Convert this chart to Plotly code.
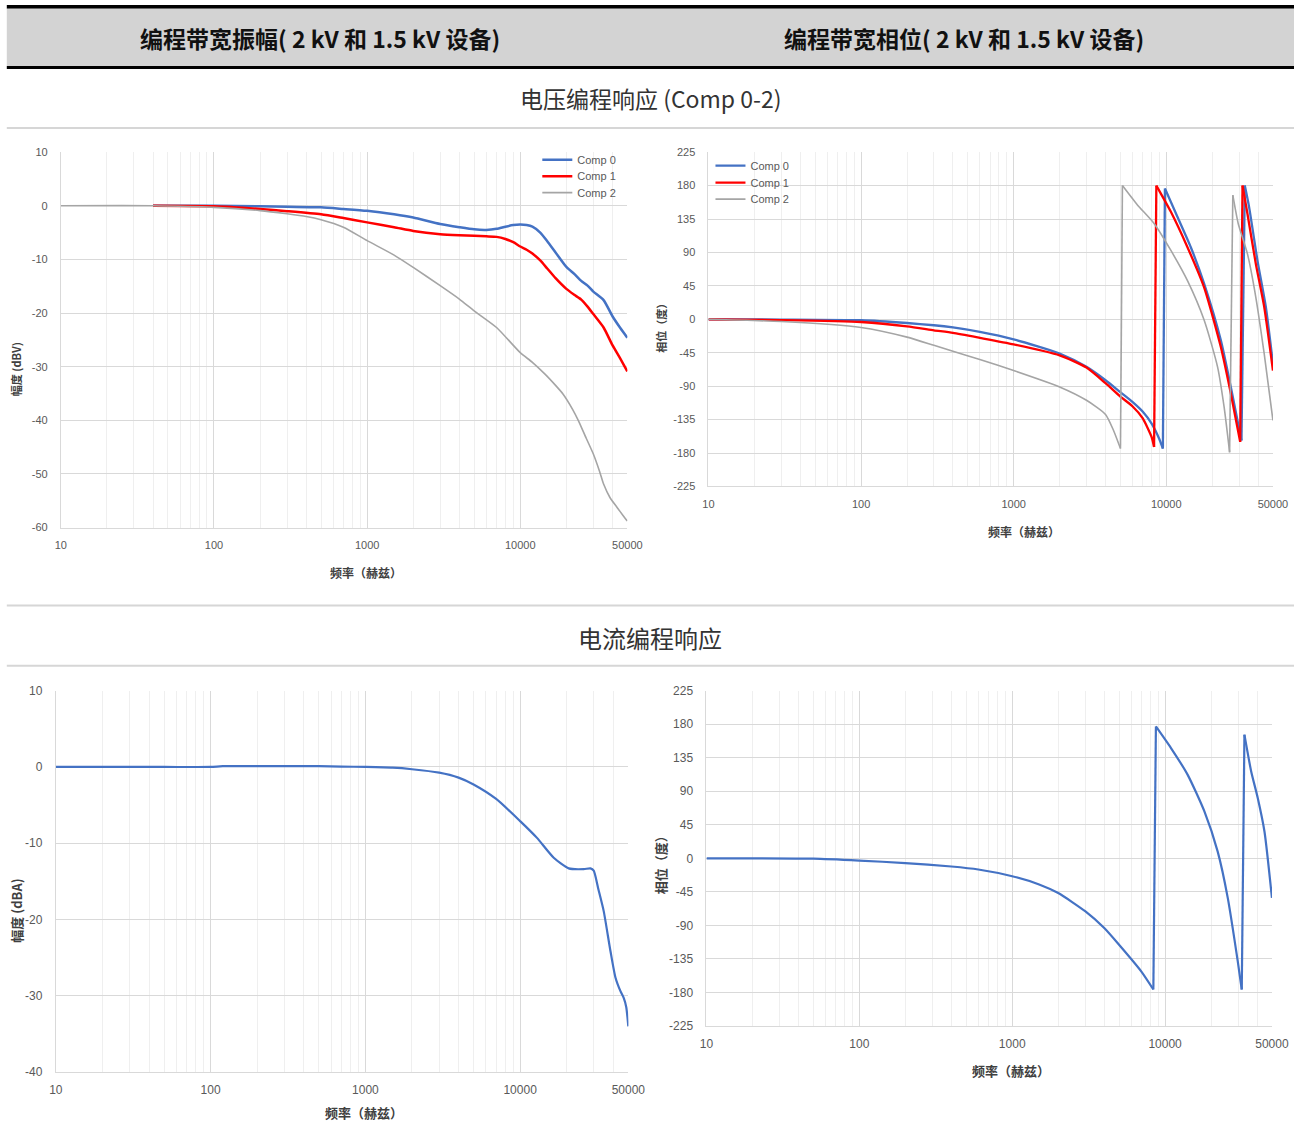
import math
import plotly.graph_objects as go

# Figure size and the observed page->picture mapping (8px body margin, ~0.98 capture scale)
W, H = 1300, 1135
SX, SY = 0.9806, 0.9867
OX, OY = 7.2, 7.0

# ---------------- data ----------------
# Voltage programming magnitude (dBV)
vm_f0 = [40, 100, 200, 300, 500, 700, 1000, 1500, 2000, 3000, 4000, 5000, 6000, 7000, 8000, 9000,
         10000, 11000, 12000, 13500, 15000, 17000, 20000, 22500, 25000, 27500, 30000, 35000, 40000, 45000, 50000]
vm_comp0 = [0, 0, -0.1, -0.2, -0.3, -0.6, -0.95, -1.6, -2.2, -3.4, -4.0, -4.4, -4.5, -4.3, -3.9, -3.6,
            -3.5, -3.6, -3.9, -5.0, -6.6, -8.7, -11.4, -12.7, -14.0, -14.9, -16.0, -17.6, -20.6, -22.8, -24.6]
vm_f1 = [40, 100, 200, 300, 500, 700, 1000, 1500, 2000, 3000, 4000, 5000, 6000, 7000, 8000, 9000,
         10000, 11000, 12000, 13500, 15000, 17000, 20000, 22500, 25000, 27500, 30000, 35000, 40000, 45000, 50000]
vm_comp1 = [0, -0.1, -0.6, -1.0, -1.6, -2.3, -3.1, -4.0, -4.7, -5.3, -5.5, -5.6, -5.7, -5.8, -6.2, -6.8,
            -7.6, -8.2, -8.9, -10.2, -11.7, -13.5, -15.5, -16.6, -17.5, -18.8, -20.2, -22.7, -26.0, -28.5, -30.9]
vm_f2 = [10, 40, 100, 200, 300, 400, 500, 700, 1000, 1500, 2000, 3000, 4000, 5000, 7000, 10000, 12000,
         14500, 17000, 19000, 22000, 24000, 27000, 30000, 33000, 35000, 38500, 43000, 47000, 50000]
vm_comp2 = [0, 0, -0.3, -0.9, -1.5, -2.0, -2.6, -4.0, -6.5, -9.2, -11.5, -14.9, -17.4, -19.6, -22.7, -27.4, -29.2,
            -31.4, -33.5, -35.1, -38.0, -40.1, -43.4, -46.3, -49.6, -51.9, -54.4, -56.3, -57.8, -58.8]

# Voltage programming phase (deg)
vp_f0 = [10, 30, 100, 200, 300, 400, 600, 1000, 2000, 3000, 4000, 5000, 6000, 7000, 8000, 9000, 9500,
         9800, 11830, 14480, 17700, 22760, 26490, 31100, 32700, 34900, 39600, 44900, 50000]
vp_comp0 = [0, -0.3, -1.3, -5, -8, -11, -17, -27, -46, -64, -82, -98, -111, -124, -140, -161, -174,
            176, 138, 97, 48, -28, -91, -163, 180, 151, 79, 17, -60]
vp_f1 = [10, 30, 100, 200, 300, 400, 600, 1000, 2000, 3000, 4000, 5000, 6000, 7000, 8000, 8320,
         8610, 10700, 13770, 17700, 22760, 26490, 30500, 31600, 34040, 38600, 43800, 50000]
vp_comp1 = [0, -1, -3.6, -9.4, -14.8, -18.4, -25, -33.7, -48.5, -65, -86, -104, -117, -133, -158, -172,
            180, 145, 97, 43, -37, -100, -165, 180, 142, 75, 17, -69]
vp_f2 = [10, 30, 100, 200, 300, 400, 600, 1000, 2000, 3000, 4000, 4500, 5010, 5160, 6470, 8320,
         10700, 13770, 17700, 21680, 23930, 26000, 27300, 29600, 34040, 38600, 43800, 50000]
vp_comp2 = [0, -3, -11, -24, -35, -43, -54, -69, -91, -109, -128, -149, -174, 180, 154, 129,
            93, 52, -1, -64, -118, -179, 167, 129, 88, 30, -46, -136]

# Current programming magnitude (dBA)
cm_f = [10, 50, 100, 120, 200, 300, 400, 500, 700, 1000, 1500, 2000, 3000, 4000, 5000, 7000, 10000,
        12850, 16480, 20600, 25780, 28460, 29880, 32000, 34670, 38300, 41280, 44480, 46750, 48500, 50000]
cm_mag = [0, 0, 0, 0.1, 0.1, 0.1, 0.1, 0.1, 0.05, 0, -0.1, -0.3, -0.75, -1.4, -2.3, -4.2, -7.1,
          -9.3, -11.9, -13.3, -13.4, -13.3, -13.6, -16.0, -18.9, -24.1, -27.6, -29.4, -30.3, -31.5, -34.0]

# Current programming phase (deg)
cp_f = [10, 50, 100, 200, 400, 600, 1000, 1500, 2000, 3000, 4000, 5000, 7000, 8380, 8710, 10930, 14060,
        18080, 22090, 25700, 29870, 31740, 33040, 36550, 40380, 44680, 50000]
cp_phase = [0, -0.5, -3, -6.3, -11, -15, -24, -35, -46.6, -71, -93.6, -116, -152, -176, 177, 148, 112,
            63, 9, -53, -138, -176, 166, 117, 81, 36, -53]

legend_names = ["Comp 0", "Comp 1", "Comp 2"]
x_tickvals = [10, 100, 1000, 10000, 50000]
x_ticktext = ["10", "100", "1000", "10000", "50000"]
x_minor = [20, 30, 40, 50, 60, 70, 80, 90, 200, 300, 400, 500, 600, 700, 800, 900,
           2000, 3000, 4000, 5000, 6000, 7000, 8000, 9000, 20000, 30000, 40000]
mag_v_ticks = [10, 0, -10, -20, -30, -40, -50, -60]
mag_i_ticks = [10, 0, -10, -20, -30, -40]
phase_ticks = [225, 180, 135, 90, 45, 0, -45, -90, -135, -180, -225]

BLUE = "#4472C4"
RED = "#FF0000"
GRAY = "#A5A5A5"
TICK_COLOR = "#595959"
GRID = "#D9D9D9"
MINOR_GRID = "#EFEFEF"

CJK = "Noto Sans CJK SC"
LAT = "Liberation Sans"


def px_x(p):
    return ((p - OX) / SX) / W


def px_y(p):
    return 1 - ((p - OY) / SY) / H


def with_breaks(xs, ys):
    """Split a wrapped phase trace so each smooth run is its own spline piece,
    with the +/-180 wrap drawn as a straight connector."""
    ox, oy = [xs[0]], [ys[0]]
    for i in range(1, len(xs)):
        if abs(ys[i] - ys[i - 1]) > 180:
            ox += [None, xs[i - 1], xs[i], None, xs[i]]
            oy += [None, ys[i - 1], ys[i], None, ys[i]]
        else:
            ox.append(xs[i])
            oy.append(ys[i])
    return ox, oy


SPL = dict(shape="spline", smoothing=0.6)

fig = go.Figure()

# top-left magnitude
tl = [(vm_f0, vm_comp0, BLUE, 2.5, "legend"),
      (vm_f1, vm_comp1, RED, 2.5, "legend2"),
      (vm_f2, vm_comp2, GRAY, 1.6, "legend3")]
for (f, v, c, w, lg), nm in zip(tl, legend_names):
    fig.add_trace(go.Scatter(x=f, y=v, name=nm, mode="lines",
                             line=dict(color=c, width=w, **SPL),
                             xaxis="x", yaxis="y", legend=lg))

# top-right phase
tr = [(vp_f0, vp_comp0, BLUE, 2.3, "legend4"),
      (vp_f1, vp_comp1, RED, 2.3, "legend5"),
      (vp_f2, vp_comp2, GRAY, 1.6, "legend6")]
for (f, v, c, w, lg), nm in zip(tr, legend_names):
    bx, by = with_breaks(f, v)
    fig.add_trace(go.Scatter(x=bx, y=by, name=nm, mode="lines", connectgaps=False,
                             line=dict(color=c, width=w, **SPL),
                             xaxis="x2", yaxis="y2", legend=lg))

# bottom-left
fig.add_trace(go.Scatter(x=cm_f, y=cm_mag, name="电流", mode="lines", showlegend=False,
                         line=dict(color=BLUE, width=2.2, **SPL),
                         xaxis="x3", yaxis="y3"))
# bottom-right
bx, by = with_breaks(cp_f, cp_phase)
fig.add_trace(go.Scatter(x=bx, y=by, name="电流", mode="lines", showlegend=False,
                         connectgaps=False, line=dict(color=BLUE, width=2.2, **SPL),
                         xaxis="x4", yaxis="y4"))

XMAX = math.log10(50000) + 0.0005


def xaxis(domain, anchor, fsize):
    return dict(type="log", range=[1, XMAX], domain=domain, anchor=anchor,
                tickmode="array", tickvals=x_tickvals, ticktext=x_ticktext,
                showgrid=True, gridcolor=GRID, gridwidth=1,
                minor=dict(tickmode="array", tickvals=x_minor, showgrid=True,
                           gridcolor=MINOR_GRID, gridwidth=1, ticks=""),
                ticks="", ticklabelstandoff=7, zeroline=False,
                showline=True, linecolor=GRID, linewidth=1,
                tickfont=dict(family=LAT, size=fsize, color=TICK_COLOR))


def yaxis(domain, anchor, rng, ticks, fsize):
    return dict(range=rng, domain=domain, anchor=anchor,
                tickmode="array", tickvals=ticks, ticktext=[str(t) for t in ticks],
                showgrid=True, gridcolor=GRID, gridwidth=1,
                ticks="", ticklabelstandoff=10, zeroline=False,
                showline=True, linecolor=GRID, linewidth=1,
                tickfont=dict(family=LAT, size=fsize, color=TICK_COLOR))


def leg(x, ytop):
    return dict(x=px_x(x), y=px_y(ytop), xanchor="left", yanchor="top",
                bgcolor="rgba(255,255,255,0)", borderwidth=0, tracegroupgap=0,
                font=dict(family=LAT, size=11, color=TICK_COLOR), itemwidth=30)


layout = dict(
    width=W, height=H, margin=dict(l=0, r=0, t=0, b=0),
    paper_bgcolor="white", plot_bgcolor="white",
    xaxis=xaxis([px_x(61), px_x(627)], "y", 11),
    yaxis=yaxis([px_y(527), px_y(152)], "x", [-60, 10], mag_v_ticks, 11),
    xaxis2=xaxis([px_x(708), px_x(1272)], "y2", 11),
    yaxis2=yaxis([px_y(486), px_y(152)], "x2", [-225, 225], phase_ticks, 11),
    xaxis3=xaxis([px_x(56), px_x(628)], "y3", 12),
    yaxis3=yaxis([px_y(1071), px_y(690)], "x3", [-40, 10], mag_i_ticks, 12),
    xaxis4=xaxis([px_x(706), px_x(1271)], "y4", 12),
    yaxis4=yaxis([px_y(1025), px_y(690)], "x4", [-225, 225], phase_ticks, 12),
    legend=leg(537, 145), legend2=leg(537, 161.5), legend3=leg(537, 178),
    legend4=leg(710, 151), legend5=leg(710, 168), legend6=leg(710, 184.5),
    showlegend=True,
)
fig.update_layout(**layout)

# header band and separator lines
XL, XR = px_x(7), px_x(1296)
shapes = [
    dict(type="rect", xref="paper", yref="paper", x0=XL, x1=XR, y0=px_y(66), y1=px_y(8),
         fillcolor="#D3D3D3", line=dict(width=0), layer="below"),
    dict(type="rect", xref="paper", yref="paper", x0=XL, x1=XR, y0=px_y(8.5), y1=px_y(5),
         fillcolor="#000000", line=dict(width=0)),
    dict(type="rect", xref="paper", yref="paper", x0=XL, x1=XR, y0=px_y(69), y1=px_y(66),
         fillcolor="#000000", line=dict(width=0)),
    dict(type="rect", xref="paper", yref="paper", x0=XL, x1=XR, y0=px_y(129), y1=px_y(127),
         fillcolor="#D6D6D6", line=dict(width=0)),
    dict(type="rect", xref="paper", yref="paper", x0=XL, x1=XR, y0=px_y(606), y1=px_y(604),
         fillcolor="#D6D6D6", line=dict(width=0)),
    dict(type="rect", xref="paper", yref="paper", x0=XL, x1=XR, y0=px_y(666), y1=px_y(664),
         fillcolor="#D6D6D6", line=dict(width=0)),
]
fig.update_layout(shapes=shapes)


def ann(text, x, y, size, color="#000000", weight="normal", angle=0, family=CJK):
    return dict(text=text, x=px_x(x), y=px_y(y), xref="paper", yref="paper",
                xanchor="center", yanchor="middle", showarrow=False, textangle=angle,
                font=dict(family=family, size=size, color=color, weight=weight))


annotations = [
    ann("编程带宽振幅( 2 kV 和 1.5 kV 设备)", 320, 38, 23, "#111111", "bold"),
    ann("编程带宽相位( 2 kV 和 1.5 kV 设备)", 963, 38, 23, "#111111", "bold"),
    ann("电压编程响应 (Comp 0-2)", 651, 98, 23, "#333333"),
    ann("电流编程响应", 650, 637, 24, "#333333"),
    ann("频率（赫兹）", 366, 572, 12, "#404040", "bold"),
    ann("幅度 (dBV)", 17, 369, 11, "#404040", "bold", -90),
    ann("频率（赫兹）", 1023, 531, 12, "#404040", "bold"),
    ann("相位（度）", 661, 325, 11, "#404040", "bold", -90),
    ann("频率（赫兹）", 364, 1111, 13, "#404040", "bold"),
    ann("幅度 (dBA)", 17, 910, 13, "#404040", "bold", -90),
    ann("频率（赫兹）", 1010, 1069, 13, "#404040", "bold"),
    ann("相位（度）", 660, 861, 13, "#404040", "bold", -90),
]
fig.update_layout(annotations=annotations)

fig.write_html("out.html")
